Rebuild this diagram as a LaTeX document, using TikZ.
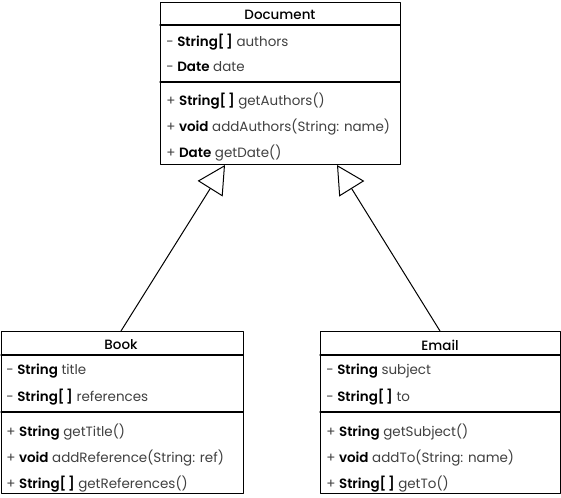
\documentclass[tikz,border=0pt]{standalone}
\usepackage{fontspec}
\setmainfont{Poppins}[BoldFont={Poppins SemiBold}]
\newfontfamily\titlefont{Poppins Medium}
\usetikzlibrary{arrows.meta}

\definecolor{txtgray}{HTML}{404040}

\begin{document}
\begin{tikzpicture}[x=0.75pt,y=-0.75pt,cap=round,line join=round]

    \def\fsz{\fontsize{10.1}{12}\selectfont}
    \def\arr{[\hspace{0.12em}]}
    \newcommand\ty[1]{\textcolor{black}{\textbf{#1}}}

    % Styles
    \tikzstyle{classbox}=[draw, line width=0.9pt, inner sep=0pt, anchor=north west]
    \tikzstyle{member}=[anchor=west, inner sep=0pt, text=txtgray, font=\fsz]
    \tikzstyle{classname}=[inner sep=0pt, font=\fsz\titlefont]
    \tikzstyle{inherit}=[-{Triangle[open,length=21pt,width=22pt]}, line width=0.75pt]

    \useasboundingbox (0,0) rectangle (561,498);

    % document class
    \node[classbox, minimum width=180pt, minimum height=121.5pt] (doc) at (160,2) {};
    \draw[line width=0.9pt] (160,25) -- (400,25);
    \draw[line width=0.9pt] (160,82) -- (400,82);
    \node[classname] (docname) at (280,15) {Document};
    \node[member] (docattra) at (166,42) {- \ty{String\arr} authors};
    \node[member] (docattrb) at (166,67) {- \ty{Date} date};
    \node[member] (docopa) at (166,101) {+ \ty{String\arr} getAuthors()};
    \node[member] (docopb) at (166,127) {+ \ty{void} addAuthors(String: name)};
    \node[member] (docopc) at (166,153) {+ \ty{Date} getDate()};

    % book class
    \node[classbox, minimum width=181.5pt, minimum height=121.5pt] (book) at (1,331) {};
    \draw[line width=0.9pt] (1,355) -- (243,355);
    \draw[line width=0.9pt] (1,412) -- (243,412);
    \node[classname] (bookname) at (121,345) {Book};
    \node[member] (bookattra) at (6,371) {- \ty{String} title};
    \node[member] (bookattrb) at (6,397) {- \ty{String\arr} references};
    \node[member] (bookopa) at (6,432) {+ \ty{String} getTitle()};
    \node[member] (bookopb) at (6,458) {+ \ty{void} addReference(String: ref)};
    \node[member] (bookopc) at (6,484) {+ \ty{String\arr} getReferences()};

    % email class
    \node[classbox, minimum width=180pt, minimum height=121.5pt] (email) at (320,331) {};
    \draw[line width=0.9pt] (320,355) -- (560,355);
    \draw[line width=0.9pt] (320,412) -- (560,412);
    \node[classname] (emailname) at (440,345) {Email};
    \node[member] (emailattra) at (326,371) {- \ty{String} subject};
    \node[member] (emailattrb) at (326,397) {- \ty{String\arr} to};
    \node[member] (emailopa) at (326,432) {+ \ty{String} getSubject()};
    \node[member] (emailopb) at (326,458) {+ \ty{void} addTo(String: name)};
    \node[member] (emailopc) at (326,484) {+ \ty{String\arr} getTo()};

    % inheritance
    \coordinate (bookup) at (121,331);
    \coordinate (emailup) at (440,331);
    \coordinate (docleft) at (225,165);
    \coordinate (docright) at (337,165);
    \draw[inherit] (bookup) -- (docleft);
    \draw[inherit] (emailup) -- (docright);

\end{tikzpicture}
\end{document}
